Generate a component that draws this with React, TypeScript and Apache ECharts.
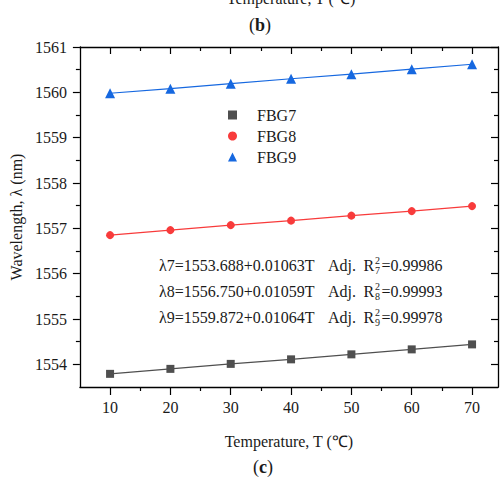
import React, { useEffect, useRef } from "react";
import * as echarts from "echarts";

const temperatures = [10, 20, 30, 40, 50, 60, 70];
const fbg7 = [1553.79, 1553.9, 1554.01, 1554.11, 1554.22, 1554.33, 1554.44];
const fbg8 = [1556.85, 1556.96, 1557.07, 1557.17, 1557.28, 1557.38, 1557.49];
const fbg9 = [1559.98, 1560.08, 1560.19, 1560.3, 1560.4, 1560.51, 1560.62];
const xMajorTicks = [10, 20, 30, 40, 50, 60, 70];
const xMinorTicks = [15, 25, 35, 45, 55, 65];
const yMajorTicks = [1554, 1555, 1556, 1557, 1558, 1559, 1560, 1561];
const yMinorTicks = [1554.5, 1555.5, 1556.5, 1557.5, 1558.5, 1559.5, 1560.5];
const fitLines = [
  { eq: "λ7=1553.688+0.01063T", sub: "7", r2: "=0.99986" },
  { eq: "λ8=1556.750+0.01059T", sub: "8", r2: "=0.99993" },
  { eq: "λ9=1559.872+0.01064T", sub: "9", r2: "=0.99978" },
];

const FONT = "'Liberation Serif', 'Times New Roman', serif";
const TXT = "#1a1a1a";

export default function App() {
  const ref = useRef<HTMLDivElement>(null);
  useEffect(() => {
    const chart = echarts.init(ref.current!, null, { renderer: "svg" });
    const X_MIN = 5, X_MAX = 74.3, Y_MIN = 1553.5, Y_MAX = 1561;
    const line = { show: true, lineStyle: { color: "#000", width: 1.3 } };
    const baseX = { type: "value", min: X_MIN, max: X_MAX, splitLine: { show: false } };
    const baseY = { type: "value", min: Y_MIN, max: Y_MAX, splitLine: { show: false } };
    const hiddenLabel = { show: false };
    const plain = (v: number) => String(v);
    const tick = (vals: number[], len: number, inside: boolean) => ({
      show: true, customValues: vals, length: len, inside, lineStyle: { color: "#000", width: 1.2 },
    });
    const xAxis = [
      {
        ...baseX, position: "bottom", axisLine: line, axisTick: tick(xMajorTicks, 8, false),
        axisLabel: { customValues: xMajorTicks, formatter: plain, margin: 12, fontSize: 16, fontFamily: FONT, color: TXT },
        name: "Temperature, T (℃)", nameLocation: "middle", nameGap: 46,
        nameTextStyle: { fontSize: 16, fontFamily: FONT, color: TXT },
      },
      { ...baseX, position: "bottom", axisLine: { show: false }, axisTick: tick(xMinorTicks, 4, false), axisLabel: hiddenLabel },
      { ...baseX, position: "top", axisLine: line, axisTick: tick(xMajorTicks, 7, true), axisLabel: hiddenLabel },
      { ...baseX, position: "top", axisLine: { show: false }, axisTick: tick(xMinorTicks, 4, true), axisLabel: hiddenLabel },
    ];
    const yAxis = [
      {
        ...baseY, position: "left", axisLine: line, axisTick: tick(yMajorTicks, 7, false),
        axisLabel: { customValues: yMajorTicks, formatter: plain, margin: 13, fontSize: 16, fontFamily: FONT, color: TXT },
        name: "Wavelength, λ (nm)", nameLocation: "middle", nameGap: 50,
        nameTextStyle: { fontSize: 16, fontFamily: FONT, color: TXT },
      },
      { ...baseY, position: "left", axisLine: { show: false }, axisTick: tick(yMinorTicks, 4, false), axisLabel: hiddenLabel },
      { ...baseY, position: "right", axisLine: line, axisTick: tick(yMajorTicks, 7, true), axisLabel: hiddenLabel },
      { ...baseY, position: "right", axisLine: { show: false }, axisTick: tick(yMinorTicks, 4, true), axisLabel: hiddenLabel },
    ];
    const mk = (name: string, vals: number[], color: string, symbol: string, size: number) => ({
      name, type: "line", xAxisIndex: 0, yAxisIndex: 0,
      data: temperatures.map((t, i) => [t, vals[i]]),
      symbol, symbolSize: size, showSymbol: true,
      itemStyle: { color }, lineStyle: { color, width: 1.2 },
    });
    const graphics: any[] = [];
    const rowY = [265, 291, 317];
    const st = (text: string, size: number, align = "left") => ({
      text, font: `${size}px ${FONT}`, fill: TXT, textAlign: align, textVerticalAlign: "middle",
      align, verticalAlign: "middle",
    });
    fitLines.forEach((f, i) => {
      const y = rowY[i];
      graphics.push({ type: "text", x: 159, y, style: st(f.eq, 16) });
      graphics.push({ type: "text", x: 328, y, style: st("Adj.", 16) });
      graphics.push({ type: "text", x: 363.5, y, style: st("R", 16) });
      graphics.push({ type: "text", x: 375, y: y - 5, style: st("2", 10) });
      graphics.push({ type: "text", x: 375, y: y + 5, style: st(f.sub, 10) });
      graphics.push({ type: "text", x: 381.5, y, style: st(f.r2, 16) });
    });
    graphics.push({ type: "text", x: 291, y: -2, style: st("Temperature, T (℃)", 16, "center") });
    const rich = { b: { fontWeight: "bold", fontSize: 18, fontFamily: FONT, fill: TXT, color: TXT } };
    graphics.push({ type: "text", x: 260, y: 25, style: { ...st("({b|b})", 18, "center"), rich } });
    graphics.push({ type: "text", x: 263, y: 467, style: { ...st("({b|c})", 18, "center"), rich } });
    chart.setOption({
      animation: false,
      backgroundColor: "#fff",
      grid: { left: 79, top: 47, right: 4, bottom: 90, containLabel: false },
      xAxis, yAxis,
      legend: {
        orient: "vertical", left: 223, top: 102, itemWidth: 9, itemHeight: 9, itemGap: 5,
        textStyle: { fontSize: 16, fontFamily: FONT, color: TXT, lineHeight: 16, padding: [0, 0, 0, 15] },
        data: [
          { name: "FBG7", icon: "rect" },
          { name: "FBG8", icon: "circle" },
          { name: "FBG9", icon: "triangle" },
        ],
      },
      series: [
        mk("FBG7", fbg7, "#4f4f4f", "rect", 8),
        mk("FBG8", fbg8, "#f83b3b", "circle", 8),
        mk("FBG9", fbg9, "#1668e0", "triangle", 10),
      ],
      graphic: graphics,
    });
    return () => chart.dispose();
  }, []);
  return <div ref={ref} style={{ width: 502, height: 477, position: "absolute", left: 0, top: 0 }} />;
}
